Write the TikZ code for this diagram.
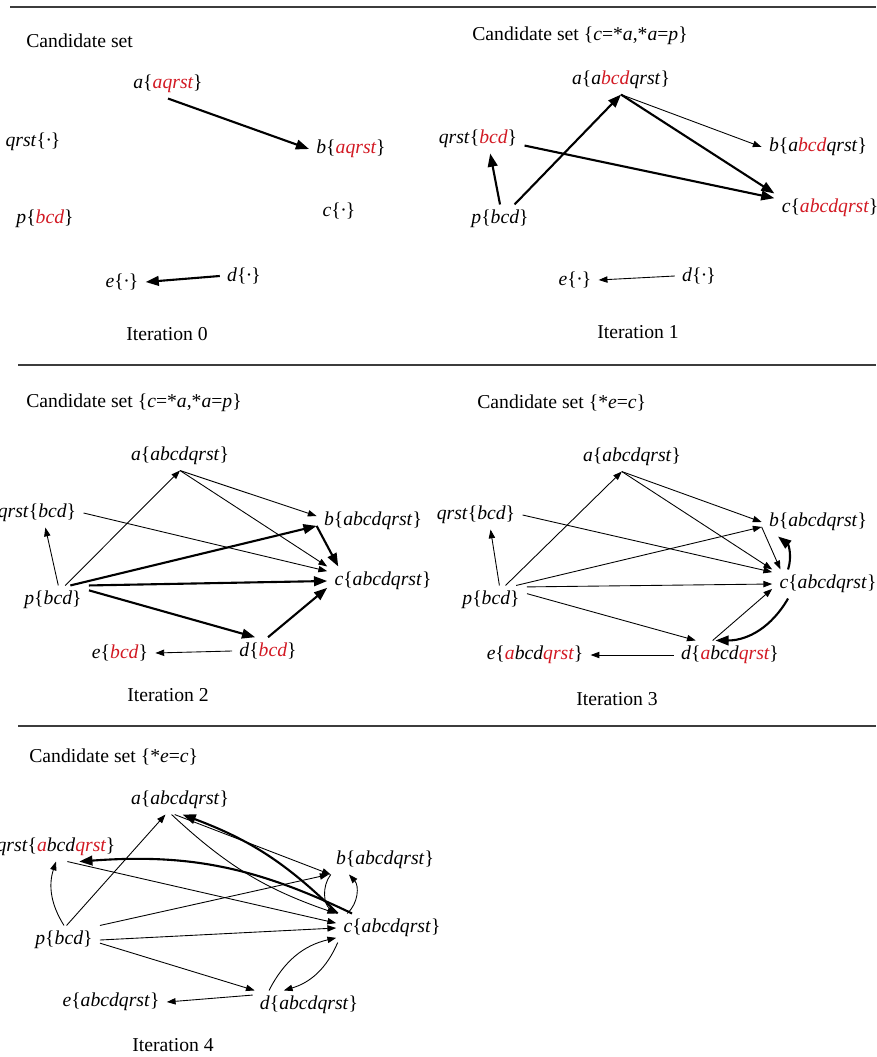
\documentclass[tikz,border=0pt]{standalone}
\usepackage{fontspec}
\setmainfont{Liberation Serif}
\usetikzlibrary{arrows.meta}
\definecolor{setred}{RGB}{210,25,35}
\definecolor{rulegray}{RGB}{60,60,60}
\newcommand{\hl}[1]{\textcolor{setred}{#1}}
\newcommand{\vset}[2]{\textit{#1}\{\textit{#2}\}}

\begin{document}
\begin{tikzpicture}[x=0.02cm, y=-0.02cm,
  vtx/.style={inner xsep=4pt, inner ysep=3pt, font=\fontsize{11.2}{13}\selectfont},
  caption/.style={inner sep=0pt, font=\fontsize{11.2}{13}\selectfont},
  link/.style={line width=0.5pt, -{Triangle[length=5pt,width=3.6pt]}},
  hot/.style={line width=1.2pt, -{Triangle[length=7.5pt,width=5.5pt]}},
  rule/.style={line width=0.6pt, rulegray}]
\useasboundingbox (0,0) rectangle (876,1057);

% separating rules
\foreach \x/\y in {10/7, 18/365, 18/726}
  \draw[rule] (\x,\y) -- (876,\y);

% Iteration 0
\node[caption, anchor=west] (cand0) at (26,41) {Candidate set};
\node[vtx] (a0) at (168,84) {\vset{a}{\hl{aqrst}}};
\node[vtx] (qrst0) at (33,142) {\vset{qrst}{\textperiodcentered}};
\node[vtx] (b0) at (351,149) {\vset{b}{\hl{aqrst}}};
\node[vtx] (p0) at (45,219) {\vset{p}{\hl{bcd}}};
\node[vtx] (c0) at (339,211) {\vset{c}{\textperiodcentered}};
\node[vtx] (e0) at (122,282) {\vset{e}{\textperiodcentered}};
\node[vtx] (d0) at (244,276) {\vset{d}{\textperiodcentered}};
\node[caption] (iter0) at (167,334) {Iteration 0};
\draw[hot] (a0.south) -- (b0.west);
\draw[hot] (d0.west) -- (e0.east);

% Iteration 1
\node[caption, anchor=west] (cand1) at (472,36) {Candidate set \{\textit{c}=*\textit{a},*\textit{a}=\textit{p}\}};
\node[vtx] (a1) at (621,80) {\vset{a}{a\hl{bcd}qrst}};
\node[vtx] (qrst1) at (478,139) {\vset{qrst}{\hl{bcd}}};
\node[vtx] (b1) at (818,147) {\vset{b}{a\hl{bcd}qrst}};
\node[vtx] (p1) at (500,219) {\vset{p}{bcd}};
\node[vtx] (c1) at (830,208) {\vset{c}{\hl{abcdqrst}}};
\node[vtx] (e1) at (575,280) {\vset{e}{\textperiodcentered}};
\node[vtx] (d1) at (699,276) {\vset{d}{\textperiodcentered}};
\node[caption] (iter1) at (638,332) {Iteration 1};
\draw[hot] (p1.north) -- (qrst1.-50);
\draw[hot] (p1.45) -- (a1.south);
\draw[link] (a1.south) -- (b1.west);
\draw[hot] (a1.south) -- (c1.north west);
\draw[hot] (qrst1.-8) -- (c1.170);
\draw[link] (d1.west) -- (e1.east);

% Iteration 2
\node[caption, anchor=west] (cand2) at (26,403) {Candidate set \{\textit{c}=*\textit{a},*\textit{a}=\textit{p}\}};
\node[vtx] (a2) at (180,456) {\vset{a}{abcdqrst}};
\node[vtx] (qrst2) at (37,513) {\vset{qrst}{bcd}};
\node[vtx] (b2) at (373,521) {\vset{b}{abcdqrst}};
\node[vtx] (p2) at (53,600) {\vset{p}{bcd}};
\node[vtx] (c2) at (383,581) {\vset{c}{abcdqrst}};
\node[vtx] (e2) at (120,653) {\vset{e}{\hl{bcd}}};
\node[vtx] (d2) at (268,651) {\vset{d}{\hl{bcd}}};
\node[caption] (iter2) at (168,695) {Iteration 2};
\draw[link] (p2.70) -- (qrst2.-60);
\draw[link] (p2.50) -- (a2.south);
\draw[link] (a2.south) -- (b2.175);
\draw[link] (a2.south) -- (c2.north west);
\draw[link] (qrst2.east) -- (c2.170);
\draw[hot] (p2.40) -- (b2.-175);
\draw[hot] (b2.-175) -- (c2.162);
\draw[hot] (p2.north east) -- (c2.west);
\draw[hot] (p2.15) -- (d2.133);
\draw[hot] (d2.north) -- (c2.-173);
\draw[link] (d2.west) -- (e2.east);

% Iteration 3
\node[caption, anchor=west] (cand3) at (477,403) {Candidate set \{*\textit{e}=\textit{c}\}};
\node[vtx] (a3) at (632,457) {\vset{a}{abcdqrst}};
\node[vtx] (qrst3) at (476,515) {\vset{qrst}{bcd}};
\node[vtx] (b3) at (818,522) {\vset{b}{abcdqrst}};
\node[vtx] (p3) at (491,600) {\vset{p}{bcd}};
\node[vtx] (c3) at (828,584) {\vset{c}{abcdqrst}};
\node[vtx] (e3) at (535,655) {\vset{e}{\hl{a}bcd\hl{qrst}}};
\node[vtx] (d3) at (730,655) {\vset{d}{\hl{a}bcd\hl{qrst}}};
\node[caption] (iter3) at (617,699) {Iteration 3};
\draw[link] (p3.60) -- (qrst3.-45);
\draw[link] (p3.45) -- (a3.-125);
\draw[link] (a3.-125) -- (b3.west);
\draw[link] (a3.-125) -- (c3.north west);
\draw[link] (qrst3.east) -- (c3.168);
\draw[link] (p3.30) -- (b3.-175);
\draw[link] (p3.20) -- (c3.west);
\draw[link] (p3.10) -- (d3.157);
\draw[link] (b3.-175) -- (c3.163);
\draw[hot] (c3.160) to[bend right=35] (b3.-160);
\draw[link] (d3.140) -- (c3.-175);
\draw[hot] (c3.-160) to[bend left=30] (d3.135);
\draw[link] (d3.west) -- (e3.east);

% Iteration 4
\node[caption, anchor=west] (cand4) at (29,757) {Candidate set \{*\textit{e}=\textit{c}\}};
\node[vtx] (a4) at (180,800) {\vset{a}{abcdqrst}};
\node[vtx] (qrst4) at (56,847) {\vset{qrst}{\hl{a}bcd\hl{qrst}}};
\node[vtx] (b4) at (385,860) {\vset{b}{abcdqrst}};
\node[vtx] (p4) at (64,940) {\vset{p}{bcd}};
\node[vtx] (c4) at (392,928) {\vset{c}{abcdqrst}};
\node[vtx] (e4) at (111,1002) {\vset{e}{abcdqrst}};
\node[vtx] (d4) at (309,1005) {\vset{d}{abcdqrst}};
\node[caption] (iter4) at (173,1045) {Iteration 4};
\draw[link] (p4.north) to[bend left=25] (qrst4.south);
\draw[link] (p4.80) -- (a4.-135);
\draw[link] (a4.-110) -- (b4.-165);
\draw[link] (a4.-120) to[bend right=12] (c4.north west);
\draw[hot] (c4.165) to[bend right=12] (a4.-80);
\draw[hot] (c4.160) to[bend right=15] (qrst4.-32);
\draw[link] (qrst4.-52) -- (c4.175);
\draw[link] (p4.north east) -- (b4.south west);
\draw[link] (p4.east) -- (c4.west);
\draw[link] (p4.-5) -- (d4.165);
\draw[link] (b4.-165) to[bend right=45] (c4.north west);
\draw[link] (c4.162) to[bend right=45] (b4.-158);
\draw[link] (d4.160) to[bend left=25] (c4.-170);
\draw[link] (c4.-165) to[bend left=25] (d4.150);
\draw[link] (d4.170) -- (e4.east);
\end{tikzpicture}
\end{document}
